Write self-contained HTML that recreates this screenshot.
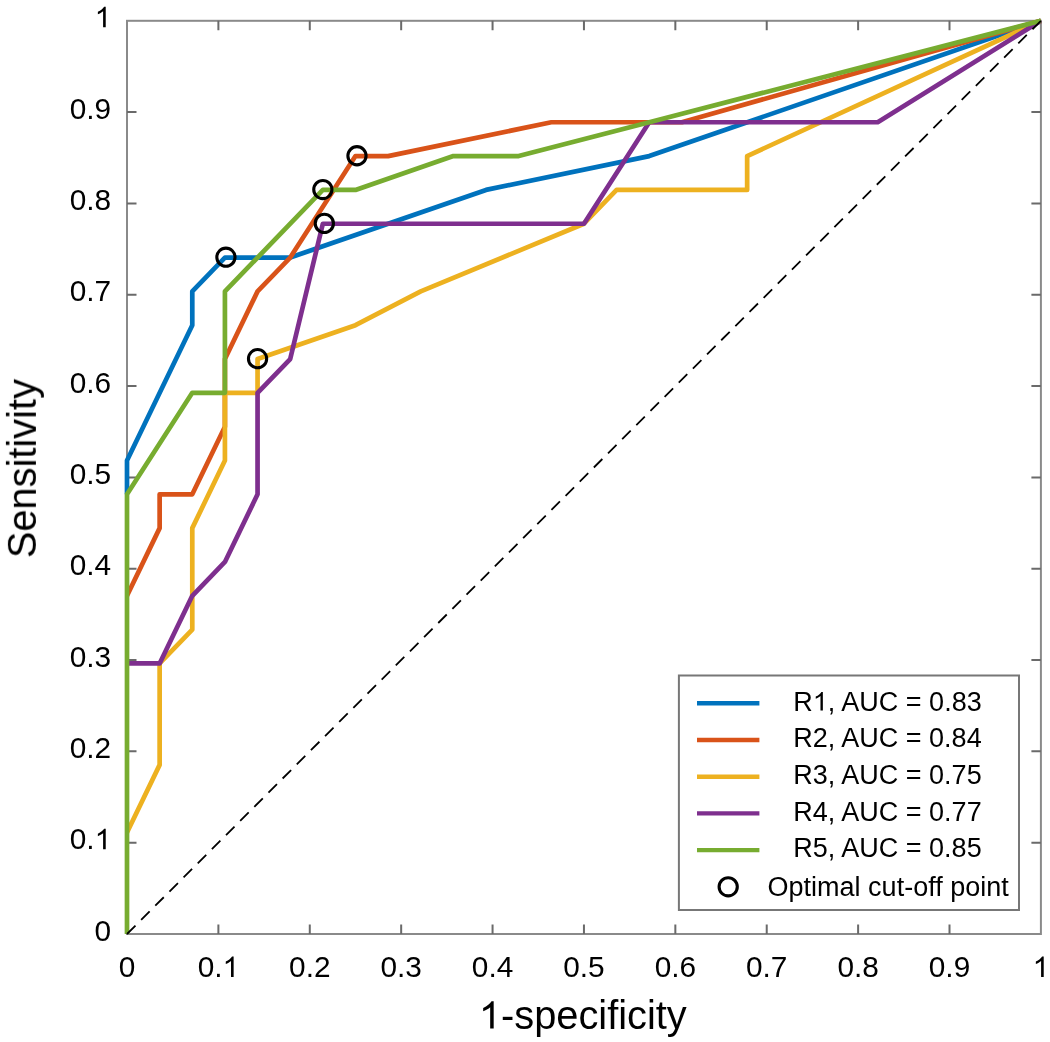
<!DOCTYPE html>
<html><head><meta charset="utf-8"><title>ROC</title>
<style>html,body{margin:0;padding:0;background:#fff;}body{width:1050px;height:1042px;overflow:hidden;}svg{display:block;}text{font-family:"Liberation Sans",sans-serif;}.h1{fill-opacity:0;}</style>
</head><body>
<svg width="1050" height="1042" viewBox="0 0 1050 1042">
<rect x="0" y="0" width="1050" height="1042" fill="#ffffff"/>
<rect x="127.00" y="20.80" width="913.90" height="913.20" fill="none" stroke="#8a8a8a" stroke-width="2.0"/>
<path d="M218.39,934.00V924.50M218.39,20.80V30.30M127.00,842.68H136.50M1040.90,842.68H1031.40M309.78,934.00V924.50M309.78,20.80V30.30M127.00,751.36H136.50M1040.90,751.36H1031.40M401.17,934.00V924.50M401.17,20.80V30.30M127.00,660.04H136.50M1040.90,660.04H1031.40M492.56,934.00V924.50M492.56,20.80V30.30M127.00,568.72H136.50M1040.90,568.72H1031.40M583.95,934.00V924.50M583.95,20.80V30.30M127.00,477.40H136.50M1040.90,477.40H1031.40M675.34,934.00V924.50M675.34,20.80V30.30M127.00,386.08H136.50M1040.90,386.08H1031.40M766.73,934.00V924.50M766.73,20.80V30.30M127.00,294.76H136.50M1040.90,294.76H1031.40M858.12,934.00V924.50M858.12,20.80V30.30M127.00,203.44H136.50M1040.90,203.44H1031.40M949.51,934.00V924.50M949.51,20.80V30.30M127.00,112.12H136.50M1040.90,112.12H1031.40" stroke="#6a6a6a" stroke-width="2" fill="none"/>
<path d="M127.00,494.31 L127.00,460.49 L192.28,325.20 L192.28,291.38 L224.92,257.56 L290.20,257.56 L486.03,189.91 L649.23,156.09 L1040.90,20.80" fill="none" stroke="#0072BD" stroke-width="4.7" stroke-linejoin="round" stroke-linecap="butt"/>
<path d="M127.00,595.78 L159.64,528.13 L159.64,494.31 L192.28,494.31 L224.92,426.67 L224.92,359.02 L257.56,291.38 L290.20,257.56 L355.48,156.09 L388.11,156.09 L551.31,122.27 L681.87,122.27 L1040.90,20.80" fill="none" stroke="#D95319" stroke-width="4.7" stroke-linejoin="round" stroke-linecap="butt"/>
<path d="M127.00,832.53 L159.64,764.89 L159.64,663.42 L192.28,629.60 L192.28,528.13 L224.92,460.49 L224.92,392.84 L257.56,392.84 L257.56,359.02 L355.48,325.20 L420.75,291.38 L583.95,223.73 L616.59,189.91 L747.15,189.91 L747.15,156.09 L1040.90,20.80" fill="none" stroke="#EDB120" stroke-width="4.7" stroke-linejoin="round" stroke-linecap="butt"/>
<path d="M127.00,663.42 L159.64,663.42 L192.28,595.78 L224.92,561.96 L257.56,494.31 L257.56,392.84 L290.20,359.02 L322.84,223.73 L583.95,223.73 L649.23,122.27 L877.70,122.27 L1040.90,20.80" fill="none" stroke="#7E2F8E" stroke-width="4.7" stroke-linejoin="round" stroke-linecap="butt"/>
<path d="M127.00,934.00 L127.00,494.31 L192.28,392.84 L224.92,392.84 L224.92,291.38 L322.84,189.91 L355.48,189.91 L453.39,156.09 L518.67,156.09 L649.23,122.27 L1040.90,20.80" fill="none" stroke="#77AC30" stroke-width="4.7" stroke-linejoin="round" stroke-linecap="butt"/>
<line x1="127.00" y1="934.00" x2="1040.90" y2="20.80" stroke="#000" stroke-width="1.8" stroke-dasharray="12 8"/>
<circle cx="225.92" cy="257.21" r="9.1" fill="none" stroke="#000" stroke-width="3.1"/>
<circle cx="356.98" cy="155.74" r="9.1" fill="none" stroke="#000" stroke-width="3.1"/>
<circle cx="257.56" cy="358.67" r="9.1" fill="none" stroke="#000" stroke-width="3.1"/>
<circle cx="324.34" cy="223.38" r="9.1" fill="none" stroke="#000" stroke-width="3.1"/>
<circle cx="322.84" cy="189.56" r="9.1" fill="none" stroke="#000" stroke-width="3.1"/>
<rect x="678.9" y="675.5" width="340.1" height="234.5" fill="#fff" stroke="#777" stroke-width="2"/>
<line x1="697" y1="703.30" x2="759.4" y2="703.30" stroke="#0072BD" stroke-width="4.4"/>
<line x1="697" y1="740.00" x2="759.4" y2="740.00" stroke="#D95319" stroke-width="4.4"/>
<line x1="697" y1="776.70" x2="759.4" y2="776.70" stroke="#EDB120" stroke-width="4.4"/>
<line x1="697" y1="813.40" x2="759.4" y2="813.40" stroke="#7E2F8E" stroke-width="4.4"/>
<line x1="697" y1="850.10" x2="759.4" y2="850.10" stroke="#77AC30" stroke-width="4.4"/>
<circle cx="728.2" cy="886.80" r="9.1" fill="none" stroke="#000" stroke-width="3.1"/>
<defs><filter id="gs" x="0" y="0" width="100%" height="100%" color-interpolation-filters="sRGB"><feColorMatrix type="saturate" values="0"/></filter></defs>
<g filter="url(#gs)">
<text id="t0" x="127.00" y="977.00" font-size="29.8" text-anchor="middle" fill="#000">0</text>
<text id="t1" x="111.20" y="940.50" font-size="29.8" text-anchor="end" fill="#000">0</text>
<text id="t2" x="218.39" y="977.00" font-size="29.8" text-anchor="middle" fill="#000">0.<tspan class="h1">1</tspan></text>
<text id="t3" x="111.20" y="849.18" font-size="29.8" text-anchor="end" fill="#000">0.<tspan class="h1">1</tspan></text>
<text id="t4" x="309.78" y="977.00" font-size="29.8" text-anchor="middle" fill="#000">0.2</text>
<text id="t5" x="111.20" y="757.86" font-size="29.8" text-anchor="end" fill="#000">0.2</text>
<text id="t6" x="401.17" y="977.00" font-size="29.8" text-anchor="middle" fill="#000">0.3</text>
<text id="t7" x="111.20" y="666.54" font-size="29.8" text-anchor="end" fill="#000">0.3</text>
<text id="t8" x="492.56" y="977.00" font-size="29.8" text-anchor="middle" fill="#000">0.4</text>
<text id="t9" x="111.20" y="575.22" font-size="29.8" text-anchor="end" fill="#000">0.4</text>
<text id="t10" x="583.95" y="977.00" font-size="29.8" text-anchor="middle" fill="#000">0.5</text>
<text id="t11" x="111.20" y="483.90" font-size="29.8" text-anchor="end" fill="#000">0.5</text>
<text id="t12" x="675.34" y="977.00" font-size="29.8" text-anchor="middle" fill="#000">0.6</text>
<text id="t13" x="111.20" y="392.58" font-size="29.8" text-anchor="end" fill="#000">0.6</text>
<text id="t14" x="766.73" y="977.00" font-size="29.8" text-anchor="middle" fill="#000">0.7</text>
<text id="t15" x="111.20" y="301.26" font-size="29.8" text-anchor="end" fill="#000">0.7</text>
<text id="t16" x="858.12" y="977.00" font-size="29.8" text-anchor="middle" fill="#000">0.8</text>
<text id="t17" x="111.20" y="209.94" font-size="29.8" text-anchor="end" fill="#000">0.8</text>
<text id="t18" x="949.51" y="977.00" font-size="29.8" text-anchor="middle" fill="#000">0.9</text>
<text id="t19" x="111.20" y="118.62" font-size="29.8" text-anchor="end" fill="#000">0.9</text>
<text id="t20" x="1040.90" y="977.00" font-size="29.8" text-anchor="middle" fill="#000"><tspan class="h1">1</tspan></text>
<text id="t21" x="111.20" y="27.30" font-size="29.8" text-anchor="end" fill="#000"><tspan class="h1">1</tspan></text>
<text id="t22" x="582.80" y="1028.60" font-size="39.8" text-anchor="middle" fill="#000"><tspan class="h1">1</tspan>-specificity</text>
<text id="t23" x="0.00" y="0.00" transform="translate(35.9,468.6) rotate(-90)" font-size="39.8" text-anchor="middle" fill="#000">Sensitivity</text>
<text id="t24" x="793.30" y="710.60" font-size="27.0" text-anchor="start" fill="#000">R<tspan class="h1">1</tspan>, AUC = 0.83</text>
<text id="t25" x="793.30" y="747.30" font-size="27.0" text-anchor="start" fill="#000">R2, AUC = 0.84</text>
<text id="t26" x="793.30" y="784.00" font-size="27.0" text-anchor="start" fill="#000">R3, AUC = 0.75</text>
<text id="t27" x="793.30" y="820.70" font-size="27.0" text-anchor="start" fill="#000">R4, AUC = 0.77</text>
<text id="t28" x="793.30" y="857.40" font-size="27.0" text-anchor="start" fill="#000">R5, AUC = 0.85</text>
<text id="t29" x="767.60" y="896.20" font-size="27.0" text-anchor="start" fill="#000">Optimal cut-off point</text>
<path transform="translate(222.53,977.00) scale(0.01455,-0.01398)" d="M763,0L583,0L583,1147Q518,1085 415,1024.5Q312,964 223,931L223,1105Q374,1176 486.5,1276Q599,1376 654,1466L763,1466Z" fill="#000"/>
<path transform="translate(94.62,849.18) scale(0.01455,-0.01398)" d="M763,0L583,0L583,1147Q518,1085 415,1024.5Q312,964 223,931L223,1105Q374,1176 486.5,1276Q599,1376 654,1466L763,1466Z" fill="#000"/>
<path transform="translate(1032.61,977.00) scale(0.01455,-0.01398)" d="M763,0L583,0L583,1147Q518,1085 415,1024.5Q312,964 223,931L223,1105Q374,1176 486.5,1276Q599,1376 654,1466L763,1466Z" fill="#000"/>
<path transform="translate(94.62,27.30) scale(0.01455,-0.01398)" d="M763,0L583,0L583,1147Q518,1085 415,1024.5Q312,964 223,931L223,1105Q374,1176 486.5,1276Q599,1376 654,1466L763,1466Z" fill="#000"/>
<path transform="translate(478.85,1028.60) scale(0.01943,-0.01868)" d="M763,0L583,0L583,1147Q518,1085 415,1024.5Q312,964 223,931L223,1105Q374,1176 486.5,1276Q599,1376 654,1466L763,1466Z" fill="#000"/>
<path transform="translate(812.80,710.60) scale(0.01318,-0.01267)" d="M763,0L583,0L583,1147Q518,1085 415,1024.5Q312,964 223,931L223,1105Q374,1176 486.5,1276Q599,1376 654,1466L763,1466Z" fill="#000"/>
</g>
</svg>
</body></html>
